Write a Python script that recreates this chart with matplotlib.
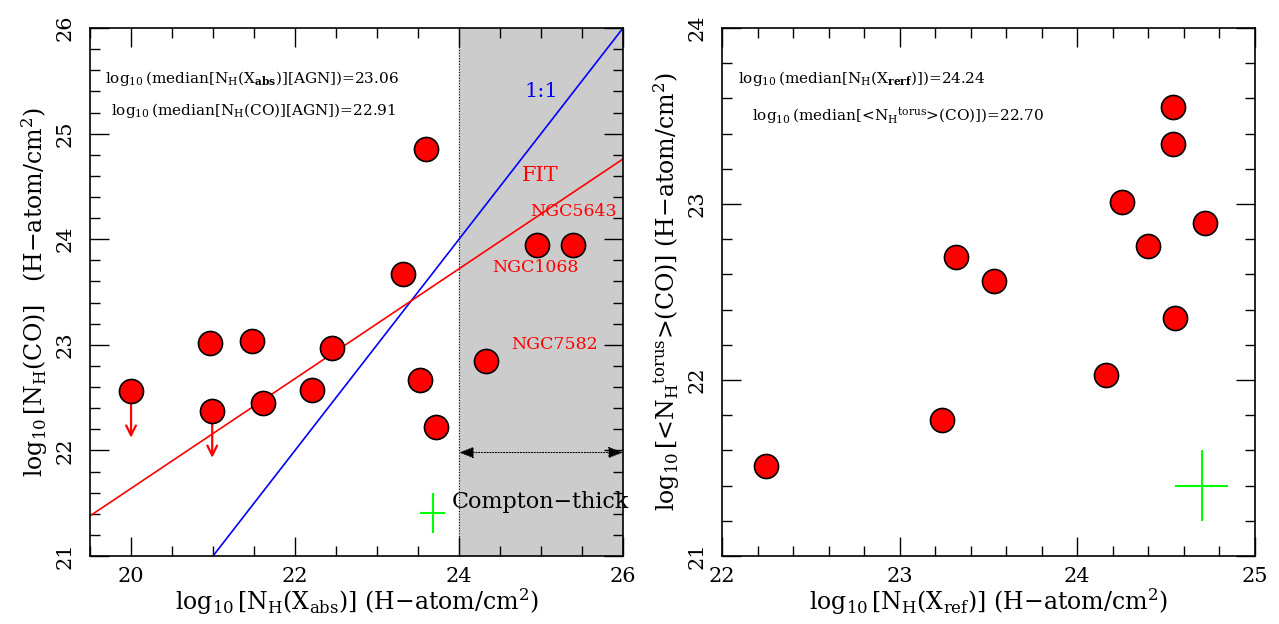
import matplotlib
matplotlib.use("Agg")
import matplotlib.pyplot as plt
from matplotlib.ticker import MultipleLocator
import numpy as np

plt.rcParams['font.family'] = ['DejaVu Serif']
plt.rcParams['mathtext.fontset'] = 'dejavuserif'

# Left panel data
left_x = [20.00, 20.99, 20.96, 21.48, 21.61, 22.21, 22.45, 23.32, 23.60, 23.52, 23.72, 24.33, 24.95, 25.39]
left_y = [22.56, 22.37, 23.02, 23.04, 22.45, 22.57, 22.97, 23.67, 24.85, 22.67, 22.22, 22.85, 23.95, 23.95]
upper_x = [20.00, 20.99]
upper_y = [22.56, 22.37]
upper_tip = [22.12, 21.93]
fit_intercept = 21.38
fit_slope = 0.52
fit_x0 = 19.5

# Right panel data
right_x = [22.25, 23.24, 23.32, 23.53, 24.16, 24.25, 24.40, 24.54, 24.54, 24.55, 24.72]
right_y = [21.51, 21.77, 22.70, 22.56, 22.03, 23.01, 22.76, 23.55, 23.34, 22.35, 22.89]

fig = plt.figure(figsize=(12.79, 6.24), dpi=100)
axL = fig.add_axes([0.0704, 0.109, 0.4167, 0.846])
axR = fig.add_axes([0.5645, 0.109, 0.4167, 0.846])

def style(ax, xmaj, xmin, ymaj, ymin):
    ax.xaxis.set_major_locator(MultipleLocator(xmaj))
    ax.xaxis.set_minor_locator(MultipleLocator(xmin))
    ax.yaxis.set_major_locator(MultipleLocator(ymaj))
    ax.yaxis.set_minor_locator(MultipleLocator(ymin))
    ax.tick_params(which='both', direction='in', top=True, right=True, labelsize=15)
    ax.tick_params(which='major', length=14, width=1)
    ax.tick_params(which='minor', length=7, width=1)
    ax.tick_params(axis='y', pad=11)
    ax.tick_params(axis='x', pad=8)
    for lab in ax.get_yticklabels():
        lab.set_rotation(90)
        lab.set_va('center')
    for s in ax.spines.values():
        s.set_linewidth(1.2)

# ---- Left panel
axL.set_xlim(19.5, 26)
axL.set_ylim(21, 26)
axL.axvspan(24, 26, color='#cccccc', zorder=0)
axL.axvline(24, color='black', lw=0.8, ls=(0, (1, 1.5)), zorder=1)
xx = np.array([19.5, 26])
axL.plot(xx, xx, color='blue', lw=1.2, zorder=2)
axL.plot(xx, fit_intercept + fit_slope * (xx - fit_x0), color='red', lw=1.2, zorder=2)
for x0, y0, yt in zip(upper_x, upper_y, upper_tip):
    axL.annotate('', xy=(x0, yt), xytext=(x0, y0),
                 arrowprops=dict(arrowstyle='->,head_length=0.7,head_width=0.35', color='red', lw=1.6,
                                 shrinkA=0, shrinkB=0), zorder=3)
axL.scatter(left_x, left_y, s=300, c='red', edgecolors='black', linewidths=1.2, zorder=5)
axL.annotate('', xy=(24, 21.98), xytext=(26, 21.98),
             arrowprops=dict(arrowstyle='<|-|>,head_length=0.9,head_width=0.35', color='black', lw=0.8,
                             ls=(0, (1, 1.5)), shrinkA=0, shrinkB=0), zorder=3)
axL.errorbar([23.68], [21.41], xerr=[0.15], yerr=[0.19], color='lime', lw=1.5, zorder=4)
axL.text(23.91, 21.51, 'Compton\u2212thick', fontsize=16, va='center', ha='left', color='black', zorder=6)
axL.text(25.0, 25.4, '1:1', color='blue', fontsize=15, ha='center', va='center')
axL.text(24.99, 24.6, 'FIT', color='red', fontsize=15, ha='center', va='center')
axL.text(25.4, 24.26, 'NGC5643', color='red', fontsize=12.5, ha='center', va='center')
axL.text(24.93, 23.73, 'NGC1068', color='red', fontsize=12.5, ha='center', va='center')
axL.text(25.17, 23.0, 'NGC7582', color='red', fontsize=12.5, ha='center', va='center')
axL.text(0.028, 0.905, r'$\log_{10}$(median[N$_\mathrm{H}$(X$_\mathbf{abs}$)][AGN])=23.06',
         transform=axL.transAxes, fontsize=11, va='center', ha='left')
axL.text(0.039, 0.843, r'$\log_{10}$(median[N$_\mathrm{H}$(CO)][AGN])=22.91',
         transform=axL.transAxes, fontsize=11, va='center', ha='left')
axL.set_xlabel(r'$\log_{10}$[N$_\mathrm{H}$(X$_\mathrm{abs}$)] (H$-$atom/cm$^2$)', fontsize=17, labelpad=0)
axL.set_ylabel(r'$\log_{10}$[N$_\mathrm{H}$(CO)]   (H$-$atom/cm$^2$)', fontsize=17, labelpad=4)
style(axL, 2, 0.5, 1, 0.2)

# ---- Right panel
axR.set_xlim(22, 25)
axR.set_ylim(21, 24)
axR.scatter(right_x, right_y, s=300, c='red', edgecolors='black', linewidths=1.2, zorder=5)
axR.errorbar([24.70], [21.40], xerr=[0.15], yerr=[0.2], color='lime', lw=1.5, zorder=4)
axR.text(0.03, 0.905, r'$\log_{10}$(median[N$_\mathrm{H}$(X$_\mathbf{rerf}$)])=24.24',
         transform=axR.transAxes, fontsize=11, va='center', ha='left')
axR.text(0.056, 0.835, r'$\log_{10}$(median[<N$_\mathrm{H}$$^\mathrm{torus}$>(CO)])=22.70',
         transform=axR.transAxes, fontsize=11, va='center', ha='left')
axR.set_xlabel(r'$\log_{10}$[N$_\mathrm{H}$(X$_\mathrm{ref}$)] (H$-$atom/cm$^2$)', fontsize=17, labelpad=0)
axR.set_ylabel(r'$\log_{10}$[<N$_\mathrm{H}$$^\mathrm{torus}$>(CO)] (H$-$atom/cm$^2$)', fontsize=17, labelpad=4)
style(axR, 1, 0.2, 1, 0.2)

fig.savefig('out.png', dpi=100)
